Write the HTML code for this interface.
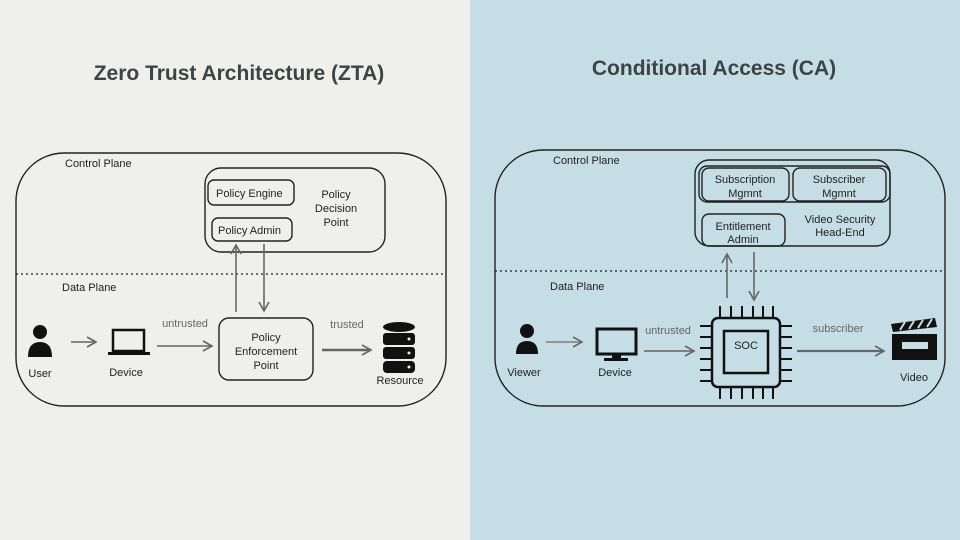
<!DOCTYPE html>
<html><head><meta charset="utf-8"><style>
html,body{margin:0;padding:0;width:960px;height:540px;overflow:hidden}
svg{display:block}
text{font-family:"Liberation Sans",sans-serif;fill:#222}
.h{font-size:11px}
.t{font-size:21px;font-weight:bold;fill:#3c4446}
.g{fill:#666}
</style></head><body>
<svg width="960" height="540" viewBox="0 0 960 540">
<defs>
<marker id="a" markerWidth="12" markerHeight="12" refX="10" refY="6" orient="auto" markerUnits="userSpaceOnUse"><path d="M1,1 L10,6 L1,11" fill="none" stroke="#666" stroke-width="1.6"/></marker>
</defs>
<rect x="0" y="0" width="470" height="540" fill="#efefeb"/>
<rect x="470" y="0" width="490" height="540" fill="#c5dee6"/>
<text class="t" x="239" y="80" text-anchor="middle">Zero Trust Architecture (ZTA)</text>
<text class="t" x="714" y="75" text-anchor="middle">Conditional Access (CA)</text>

<!-- LEFT -->
<g fill="none" stroke="#222" stroke-width="1.4">
<rect x="16" y="153" width="430" height="253" rx="48"/>
<rect x="205" y="168" width="180" height="84" rx="16"/>
<rect x="208" y="180" width="86" height="25" rx="6"/>
<rect x="212" y="218" width="80" height="23" rx="6"/>
<rect x="219" y="318" width="94" height="62" rx="10"/>
</g>
<line x1="16" y1="274" x2="446" y2="274" stroke="#222" stroke-width="1.2" stroke-dasharray="2,3"/>
<text class="h" x="65" y="167">Control Plane</text>
<text class="h" x="62" y="291">Data Plane</text>
<text class="h" x="216" y="197">Policy Engine</text>
<text class="h" x="218" y="234">Policy Admin</text>
<text class="h" x="336" y="198" text-anchor="middle">Policy</text>
<text class="h" x="336" y="212" text-anchor="middle">Decision</text>
<text class="h" x="336" y="226" text-anchor="middle">Point</text>
<text class="h" x="266" y="341" text-anchor="middle">Policy</text>
<text class="h" x="266" y="355" text-anchor="middle">Enforcement</text>
<text class="h" x="266" y="369" text-anchor="middle">Point</text>
<g stroke="#666" stroke-width="1.6" fill="none">
<line x1="236" y1="312" x2="236" y2="245" marker-end="url(#a)"/>
<line x1="264" y1="244" x2="264" y2="311" marker-end="url(#a)"/>
<line x1="71" y1="342" x2="96" y2="342" marker-end="url(#a)"/>
<line x1="157" y1="346" x2="212" y2="346" marker-end="url(#a)"/>
<line x1="322" y1="350" x2="371" y2="350" stroke-width="2.4" marker-end="url(#a)"/>
</g>
<text class="h g" x="185" y="327" text-anchor="middle">untrusted</text>
<text class="h g" x="347" y="328" text-anchor="middle">trusted</text>
<!-- user -->
<circle cx="40" cy="332" r="7" fill="#111"/>
<path d="M28,357 Q28,342 40,342 Q52,342 52,357 Z" fill="#111"/>
<text class="h" x="40" y="377" text-anchor="middle">User</text>
<!-- laptop -->
<rect x="113" y="330" width="31" height="21" fill="none" stroke="#111" stroke-width="2.5"/>
<rect x="108" y="352" width="42" height="3" fill="#111"/>
<text class="h" x="126" y="376" text-anchor="middle">Device</text>
<!-- db -->
<g fill="#111">
<ellipse cx="399" cy="327" rx="16" ry="5"/>
<rect x="383" y="333" width="32" height="12" rx="3"/>
<rect x="383" y="347" width="32" height="12" rx="3"/>
<rect x="383" y="361" width="32" height="12" rx="4"/>
</g>
<g fill="#eee"><circle cx="409" cy="339" r="1.5"/><circle cx="409" cy="353" r="1.5"/><circle cx="409" cy="367" r="1.5"/></g>
<text class="h" x="400" y="384" text-anchor="middle">Resource</text>

<!-- RIGHT -->
<g fill="none" stroke="#222" stroke-width="1.4">
<rect x="495" y="150" width="450" height="256" rx="48"/>
<rect x="695" y="160" width="195" height="86" rx="14"/>
<rect x="699" y="166" width="191" height="36" rx="8"/>
<rect x="702" y="168" width="87" height="33" rx="7"/>
<rect x="793" y="168" width="93" height="33" rx="7"/>
<rect x="702" y="214" width="83" height="32" rx="7"/>
</g>
<line x1="495" y1="271" x2="945" y2="271" stroke="#222" stroke-width="1.2" stroke-dasharray="2,3"/>
<text class="h" x="553" y="164">Control Plane</text>
<text class="h" x="550" y="290">Data Plane</text>
<text class="h" x="745" y="183" text-anchor="middle">Subscription</text>
<text class="h" x="745" y="197" text-anchor="middle">Mgmnt</text>
<text class="h" x="839" y="183" text-anchor="middle">Subscriber</text>
<text class="h" x="839" y="197" text-anchor="middle">Mgmnt</text>
<text class="h" x="743" y="230" text-anchor="middle">Entitlement</text>
<text class="h" x="743" y="243" text-anchor="middle">Admin</text>
<text class="h" x="840" y="223" text-anchor="middle">Video Security</text>
<text class="h" x="840" y="236" text-anchor="middle">Head-End</text>
<g stroke="#666" stroke-width="1.6" fill="none">
<line x1="727" y1="298" x2="727" y2="254" marker-end="url(#a)"/>
<line x1="754" y1="252" x2="754" y2="300" marker-end="url(#a)"/>
<line x1="546" y1="342" x2="582" y2="342" stroke="#8a7d78" marker-end="url(#a)"/>
<line x1="644" y1="351" x2="694" y2="351" stroke="#8a7d78" stroke-width="2" marker-end="url(#a)"/>
<line x1="797" y1="351" x2="884" y2="351" stroke-width="2.2" marker-end="url(#a)"/>
</g>
<text class="h g" x="668" y="334" text-anchor="middle">untrusted</text>
<text class="h g" x="838" y="332" text-anchor="middle">subscriber</text>
<!-- viewer -->
<circle cx="527" cy="331" r="7" fill="#111"/>
<path d="M516,354 Q516,341 527,341 Q538,341 538,354 Z" fill="#111"/>
<text class="h" x="524" y="376" text-anchor="middle">Viewer</text>
<!-- monitor -->
<rect x="597" y="329" width="39" height="25" fill="none" stroke="#111" stroke-width="3"/>
<rect x="612" y="355" width="9" height="4" fill="#111"/>
<rect x="604" y="358" width="24" height="3" fill="#111"/>
<text class="h" x="615" y="376" text-anchor="middle">Device</text>
<!-- chip -->
<rect x="712" y="318" width="68" height="69" rx="6" fill="none" stroke="#111" stroke-width="2.5"/>
<rect x="724" y="331" width="44" height="42" fill="none" stroke="#111" stroke-width="2.5"/>
<text class="h" x="746" y="349" text-anchor="middle">SOC</text>
<g stroke="#111" stroke-width="2">
<path d="M720,306V318M731,306V318M742,306V318M753,306V318M763,306V318M773,306V318"/>
<path d="M720,387V399M731,387V399M742,387V399M753,387V399M763,387V399M773,387V399"/>
<path d="M700,326H712M700,337H712M700,348H712M700,359H712M700,370H712M700,381H712"/>
<path d="M780,326H792M780,337H792M780,348H792M780,359H792M780,370H792M780,381H792"/>
</g>
<!-- clapper -->
<rect x="892" y="334" width="45" height="26" fill="#111"/>
<rect x="902" y="342" width="26" height="7" fill="#c5dee6"/>
<path d="M891,324 L935,318 L937,327 L893,332 Z" fill="#111"/>
<g stroke="#c5dee6" stroke-width="2"><path d="M900,330L905,322M909,329L914,321M918,328L923,320M927,327L932,319"/></g>
<text class="h" x="914" y="381" text-anchor="middle">Video</text>
</svg>
</body></html>
